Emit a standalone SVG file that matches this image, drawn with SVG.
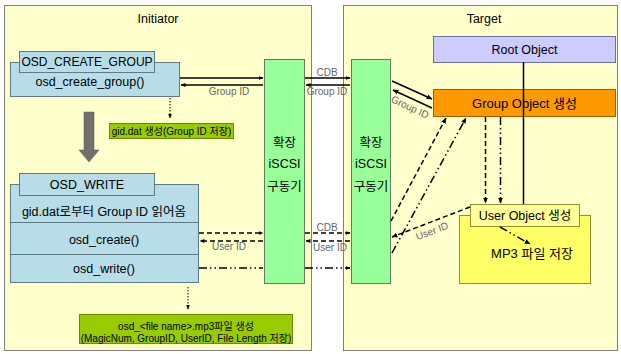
<svg xmlns="http://www.w3.org/2000/svg" width="621" height="354" viewBox="0 0 621 354">
<defs>
<style>
text{font-family:"Liberation Sans","Noto Sans CJK KR",sans-serif;fill:#000;text-anchor:middle;dominant-baseline:central}
.panel{fill:#FFFFCC;stroke:#808080;stroke-width:1}
.blue{fill:#B7DDE8;stroke:#5f7a80;stroke-width:1}
.drv{fill:#99FF99;stroke:#5f7f5f;stroke-width:1}
.olive{fill:#99CC00;stroke:#6b8a00;stroke-width:1}
.t12{font-size:12.5px}
.t13{font-size:13px}
.lbl{font-size:10px;fill:#666}
.sm{font-size:10px}
.ln{stroke:#000;stroke-width:1.5;fill:none}
.dash{stroke-dasharray:5,3}
.dd{stroke-dasharray:8,3,1.5,3,1.5,3}
.dot{stroke-width:1;stroke-dasharray:1.5,1.5}
</style>
<marker id="ah" viewBox="0 0 10 10" refX="9" refY="5" markerWidth="6" markerHeight="6" markerUnits="userSpaceOnUse" orient="auto"><path d="M0,1 L10,5 L0,9 z" fill="#000"/></marker>
<marker id="ahs" viewBox="0 0 10 10" refX="9" refY="5" markerWidth="5" markerHeight="5" markerUnits="userSpaceOnUse" orient="auto"><path d="M0,1 L10,5 L0,9 z" fill="#000"/></marker>
</defs>
<rect x="0" y="0" width="621" height="354" fill="#fff"/>
<g id="initiator">
<rect class="panel" x="4.5" y="5.5" width="307" height="345"/>
<text class="t12" x="158" y="19">Initiator</text>
</g>
<g id="target">
<rect class="panel" x="343.5" y="5.5" width="274" height="345"/>
<text class="t12" x="484" y="19">Target</text>
</g>
<g id="osd_create_group">
<rect class="blue" x="10.5" y="62.5" width="169" height="34"/>
<rect class="blue" x="19.5" y="51.5" width="135" height="21"/>
<text x="87" y="62" font-size="12px">OSD_CREATE_GROUP</text>
<text class="t12" x="90" y="82">osd_create_group()</text>
</g>
<g id="gid_dat">
<rect class="olive" x="109.5" y="123.5" width="124" height="15"/>
<text class="sm" x="171.5" y="131.5">gid.dat 생성(Group ID 저장)</text>
</g>
<g id="big_arrow">
<path d="M84,112 H94 V150 H99 L89,162 L79,150 H84 Z" fill="#707070" stroke="#555" stroke-width="0.5"/>
</g>
<g id="osd_write">
<rect class="blue" x="10.5" y="184.5" width="188" height="98"/>
<line x1="10.5" y1="222.5" x2="198.5" y2="222.5" stroke="#5f7a80"/>
<line x1="10.5" y1="254.5" x2="198.5" y2="254.5" stroke="#5f7a80"/>
<rect class="blue" x="19.5" y="173.5" width="135" height="22"/>
<text class="t12" x="87" y="185">OSD_WRITE</text>
<text class="t12" x="104" y="212">gid.dat로부터 Group ID 읽어옴</text>
<text class="t12" x="104" y="240">osd_create()</text>
<text class="t12" x="104" y="269">osd_write()</text>
</g>
<g id="mp3_file">
<rect class="olive" x="79.5" y="314.5" width="213" height="29"/>
<text class="sm" x="186" y="326">osd_&lt;file name&gt;.mp3파일 생성</text>
<text class="sm" x="186" y="338">(MagicNum, GroupID, UserID, File Length 저장)</text>
</g>
<g id="driver_left">
<rect class="drv" x="264.5" y="59.5" width="40" height="224"/>
<text class="t12" x="284.5" y="143">확장</text>
<text class="t12" x="284.5" y="164">iSCSI</text>
<text class="t12" x="284.5" y="187">구동기</text>
</g>
<g id="driver_right">
<rect class="drv" x="351.5" y="59.5" width="39" height="224"/>
<text class="t12" x="371" y="143">확장</text>
<text class="t12" x="371" y="164">iSCSI</text>
<text class="t12" x="371" y="187">구동기</text>
</g>
<g id="root_object">
<rect x="433.5" y="36.5" width="182" height="26" fill="#CCCCFF" stroke="#707090"/>
<text class="t12" x="524.5" y="49.5">Root Object</text>
</g>
<g id="group_object">
<rect x="433.5" y="89.5" width="182" height="27" fill="#FF9900" stroke="#a06000"/>
<text class="t13" x="524.5" y="103">Group Object 생성</text>
</g>
<g id="user_object">
<rect x="459.5" y="215.5" width="131" height="68" fill="#FFFF66" stroke="#909030"/>
<rect x="470.5" y="204.5" width="109" height="22" fill="#FFFF99" stroke="#909030"/>
<text class="t12" x="525" y="215.5">User Object 생성</text>
<text class="t13" x="532" y="253">MP3 파일 저장</text>
</g>
<g id="connectors">
<line class="ln" x1="523.5" y1="62" x2="523.5" y2="204" stroke-width="1.5"/>
<line class="ln" x1="180" y1="78" x2="263" y2="78" marker-end="url(#ahs)"/>
<line class="ln" x1="263" y1="85" x2="181" y2="85" marker-end="url(#ahs)"/>
<text class="lbl" x="229" y="91">Group ID</text>
<line class="ln" x1="305" y1="78" x2="350" y2="78" marker-end="url(#ahs)"/>
<text class="lbl" x="327" y="72">CDB</text>
<line class="ln" x1="350" y1="85" x2="306" y2="85" marker-end="url(#ahs)"/>
<text class="lbl" x="327" y="91">Group ID</text>
<line class="ln" x1="392" y1="81" x2="432" y2="99" marker-end="url(#ah)"/>
<line class="ln" x1="432" y1="108" x2="393" y2="90" marker-end="url(#ah)"/>
<text class="lbl" x="410" y="107" transform="rotate(25 410 107)">Group ID</text>
<line class="ln dot" x1="170" y1="98" x2="170" y2="118" marker-end="url(#ahs)"/>
<line class="ln dot" x1="188" y1="287" x2="188" y2="309" marker-end="url(#ahs)"/>
<line class="ln dash" x1="199" y1="233" x2="263" y2="233" marker-end="url(#ahs)"/>
<line class="ln dash" x1="263" y1="241" x2="200" y2="241" marker-end="url(#ahs)"/>
<text class="lbl" x="229" y="246">User ID</text>
<line class="ln dd" x1="199" y1="268" x2="263" y2="268"/>
<line class="ln dash" x1="305" y1="233" x2="350" y2="233" marker-end="url(#ahs)"/>
<text class="lbl" x="327" y="227">CDB</text>
<line class="ln dash" x1="350" y1="241" x2="306" y2="241" marker-end="url(#ahs)"/>
<text class="lbl" x="330" y="247">User ID</text>
<line class="ln dd" x1="305" y1="268" x2="350" y2="268" marker-end="url(#ahs)"/>
<line class="ln dash" x1="391" y1="221" x2="446" y2="118" marker-end="url(#ah)"/>
<line class="ln dd" x1="392" y1="253" x2="466" y2="118" marker-end="url(#ah)"/>
<line class="ln dash" x1="485.5" y1="117" x2="485.5" y2="203" marker-end="url(#ah)"/>
<line class="ln dd" x1="500.5" y1="117" x2="500.5" y2="203" marker-end="url(#ah)"/>
<line class="ln dash" x1="470" y1="207" x2="392" y2="237" marker-end="url(#ah)"/>
<text class="lbl" x="432" y="231" transform="rotate(-21 432 231)">User ID</text>
<line class="ln dd" x1="500" y1="227" x2="530" y2="244" marker-end="url(#ah)"/>
</g>
</svg>
